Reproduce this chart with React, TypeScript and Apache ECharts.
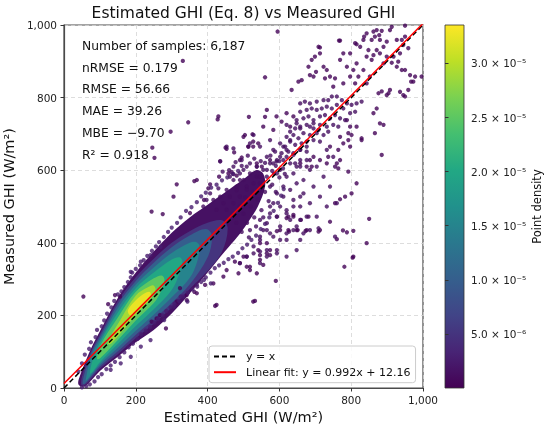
import React, { useEffect, useRef } from "react";
import * as echarts from "echarts";

// ---------- values ----------
const TITLE = "Estimated GHI (Eq. 8) vs Measured GHI";
const X_NAME = "Estimated GHI (W/m²)";
const Y_NAME = "Measured GHI (W/m²)";
const CBAR_NAME = "Point density";
const AXIS_MIN = 0;
const AXIS_MAX = 1000;
const AXIS_STEP = 200;
const DENSITY_MIN = 0;
const DENSITY_MAX = 3.355e-5;
const DENSITY_STEP = 5e-6;
const VIRIDIS = ["#440154", "#482475", "#414487", "#355f8d", "#2a788e", "#21918c", "#22a884", "#44bf70", "#7ad151", "#bddf26", "#fde725"];

const statsLines = ["Number of samples: 6,187", "nRMSE = 0.179", "RMSE = 56.66", "MAE = 39.26", "MBE = \u22129.70", "R\u00b2 = 0.918"];

const FIT_SLOPE = 0.992;
const FIT_INTERCEPT = 12.16;
const identityLine = [[0, 0], [1000, 1000]];
const fitEnds = [0, 1000];

// density of the individual point groups
const SPARSE_D = 3e-7;
const BAND_D = 1.2e-6;
const FRINGE_D = 2.6e-6;
const PURPLE_ZONE_D = 1.5e-6;

// semi-dense purple region (outline of the merged dots)
const purpleZone = [
  [40, 10], [45, 35], [75, 108], [100, 156], [150, 248], [200, 318], [250, 376], [300, 428], [350, 470], [400, 505], [450, 540], [500, 575], [535, 600],
  [555, 590], [560, 555],
  [540, 500], [515, 460], [490, 425], [460, 390], [430, 355], [400, 318], [350, 260], [300, 205], [250, 160], [200, 126], [150, 86], [100, 47], [75, 20], [55, 4],
];

// dense core, density contours (outer to inner)
const coreLevel1 = [
  [48, 8], [50, 32], [75, 100], [100, 148], [150, 240], [200, 305], [250, 356], [300, 400], [350, 432], [400, 455], [440, 462],
  [456, 440],
  [440, 375], [400, 322], [350, 272], [300, 222], [250, 177], [200, 137], [150, 93], [100, 53], [75, 25], [55, 6],
];
const coreLevel2 = [
  [52, 12], [56, 36], [75, 94], [100, 141], [150, 231], [200, 295], [250, 345], [300, 388], [350, 420], [395, 438],
  [412, 420],
  [400, 360], [350, 285], [300, 234], [250, 189], [200, 147], [150, 101], [100, 59], [75, 30], [58, 12],
];
const coreLevel3 = [
  [60, 20], [75, 86], [100, 133], [150, 220], [200, 285], [250, 332], [300, 372], [350, 400], [368, 402],
  [378, 390],
  [370, 345], [350, 303], [300, 250], [250, 202], [200, 158], [150, 111], [100, 65], [75, 35], [62, 20],
];
const coreLevel4 = [
  [72, 40], [80, 78], [100, 125], [150, 208], [200, 275], [250, 318], [300, 354], [322, 360],
  [330, 348],
  [320, 312], [300, 270], [250, 217], [200, 171], [150, 121], [100, 71], [80, 45],
];
const coreLevel5 = [
  [92, 80], [100, 115], [150, 194], [200, 265], [250, 302], [272, 310],
  [280, 298],
  [270, 266], [250, 234], [200, 186], [150, 132], [100, 81],
];
const coreLevel6 = [
  [122, 126], [150, 176], [200, 255], [235, 278], [248, 283],
  [255, 272],
  [245, 250], [200, 202], [150, 142], [127, 120],
];
const coreLevel7 = [
  [178, 214], [200, 242], [225, 261], [238, 265],
  [242, 255],
  [230, 236], [205, 215], [185, 200],
];
const coreLevels = [coreLevel1, coreLevel2, coreLevel3, coreLevel4, coreLevel5, coreLevel6, coreLevel7];
const coreDensities = [5e-6, 1.0e-5, 1.5e-5, 2.0e-5, 2.5e-5, 2.9e-5, 3.25e-5];

// isolated points
const sparsePoints = [
  [331, 901], [560, 856], [346, 732], [297, 706], [246, 662], [252, 634], [430, 748], [428, 740], [515, 747], [565, 766], [560, 747], [555, 720], [500, 692], [504, 697], [525, 699], [527, 679], [541, 674], [513, 665], [450, 662], [453, 659], [474, 649], [435, 625], [495, 635], [458, 591], [472, 589], [481, 585], [407, 561], [370, 573], [363, 570], [314, 561], [305, 527], [244, 486], [275, 479], [402, 550], [432, 582], [467, 595], [390, 518], [351, 482],
  [595, 982], [634, 821], [653, 844], [662, 848], [685, 862], [695, 858], [709, 940], [713, 938], [690, 904], [681, 885], [699, 913], [713, 922], [702, 871], [723, 885], [732, 876], [727, 853], [741, 858], [755, 853], [750, 830], [769, 904], [778, 922], [797, 922], [811, 950], [769, 957], [620, 757], [639, 748], [630, 720], [606, 734], [592, 748], [583, 711], [527, 665], [514, 665], [490, 628], [537, 619], [574, 628], [551, 610],
  [850, 466], [843, 399], [804, 359], [781, 334], [760, 410], [806, 433], [788, 429], [777, 434], [741, 458], [713, 435], [709, 431], [673, 433], [651, 435], [627, 431], [602, 435], [593, 432], [681, 472], [660, 463], [639, 472], [625, 472], [620, 468], [590, 295], [527, 238], [421, 226], [444, 307], [509, 334], [555, 339], [574, 366], [546, 366], [541, 380], [500, 362], [476, 348], [486, 316], [393, 284], [370, 261], [342, 242], [363, 265], [416, 288], [453, 325], [490, 344], [518, 325], [546, 399], [565, 399], [676, 435], [806, 362], [425, 229], [532, 240], [54, 252], [123, 231], [142, 256], [156, 252], [284, 164], [258, 192], [267, 201], [244, 183], [314, 238], [342, 256], [323, 275], [639, 477], [625, 435], [648, 435], [565, 371], [546, 353], [574, 380], [518, 334], [537, 316],
  [862, 982], [871, 986], [885, 984], [878, 972], [866, 968], [857, 959], [880, 959], [899, 954], [890, 940], [871, 931], [950, 998], [927, 959], [945, 945], [959, 936], [936, 922], [918, 913], [899, 913], [880, 922], [862, 917], [848, 931], [843, 913], [857, 904], [890, 894], [913, 896], [927, 885], [950, 876], [964, 862], [973, 844], [996, 858], [978, 858], [945, 807], [959, 821], [936, 816], [876, 812], [904, 812], [871, 770], [862, 757], [880, 729], [890, 725], [866, 702], [885, 642], [829, 688], [815, 720], [797, 720], [792, 702], [801, 697], [792, 683], [797, 665], [788, 738], [769, 692], [778, 674], [764, 656], [769, 628], [755, 610], [741, 665], [736, 637], [695, 637], [685, 628], [676, 610], [690, 610], [658, 619], [732, 619], [713, 628], [834, 959], [843, 977], [836, 968], [815, 947], [766, 957], [825, 940], [815, 894], [834, 876], [852, 858], [843, 839], [820, 858], [806, 876], [788, 885], [797, 858], [778, 839], [811, 839], [908, 986], [913, 995], [941, 959], [950, 968], [931, 899], [941, 876], [967, 844], [950, 803], [899, 807], [885, 817], [908, 821], [815, 564], [801, 536], [783, 527], [769, 520], [755, 509], [792, 596], [764, 605], [760, 619], [829, 683],
];

// semi-dense diagonal band above x = 400
const bandPoints = [
  [658, 784], [671, 789], [685, 784], [704, 789], [723, 793], [736, 793], [746, 803], [760, 803], [774, 793], [788, 784], [801, 780], [815, 784], [829, 789], [658, 761], [676, 766], [690, 770], [704, 766], [718, 770], [732, 775], [746, 770], [760, 780], [778, 770], [797, 757], [811, 761], [648, 738], [667, 743], [681, 748], [695, 738], [713, 748], [727, 752], [741, 743], [755, 752], [769, 743], [783, 738], [630, 706], [644, 715], [658, 720], [676, 725], [695, 715], [713, 725], [732, 720], [750, 725], [764, 720], [620, 692], [639, 697], [653, 688], [667, 702], [685, 697], [704, 702], [723, 697], [736, 706], [602, 674], [616, 665], [630, 679], [644, 670], [662, 674], [676, 679], [695, 683], [713, 679], [588, 651], [606, 647], [625, 651], [639, 642], [658, 656], [676, 651], [592, 624], [611, 628], [630, 619], [648, 610],
  [620, 725], [648, 729], [658, 715], [685, 720], [695, 729], [709, 711], [528, 697], [518, 674], [472, 660], [453, 665], [495, 628], [435, 624], [546, 665], [574, 683], [583, 656], [611, 665], [630, 683], [565, 637], [593, 628], [620, 637], [639, 647], [658, 656], [676, 665], [685, 601], [704, 610], [732, 656], [750, 637], [723, 582], [741, 555], [695, 555], [667, 536], [685, 509], [713, 527], [658, 500], [676, 472], [704, 472], [732, 500], [760, 509], [630, 463], [648, 445], [667, 426], [620, 426], [602, 408], [685, 435], [658, 463], [709, 440], [755, 417], [593, 371], [565, 380], [509, 362], [528, 371], [546, 376], [602, 601], [620, 582], [639, 591], [658, 610], [648, 564], [630, 546], [611, 527], [602, 500], [639, 518], [620, 490], [593, 472], [667, 573], [658, 628], [676, 628], [644, 619], [611, 555], [593, 536], [583, 509], [574, 481], [565, 454], [555, 435], [546, 417], [574, 426], [472, 610], [500, 601], [518, 619], [537, 610], [555, 601], [574, 619], [593, 591], [537, 582], [565, 582], [546, 564], [574, 555], [462, 582], [490, 573], [481, 545], [509, 555],
  [574, 500], [593, 472], [620, 481], [639, 500], [658, 527], [546, 463], [565, 435], [583, 417], [620, 408], [639, 435], [602, 445], [546, 408], [528, 390], [509, 362], [490, 344], [546, 344], [565, 362], [593, 380], [620, 362], [648, 380], [658, 408], [518, 435],
  [453, 491], [472, 509], [490, 527], [509, 546], [528, 564], [546, 582], [565, 601], [583, 619], [602, 637], [620, 656], [462, 527], [481, 555], [500, 573], [518, 591], [537, 610], [444, 509], [425, 491], [435, 527], [416, 518], [453, 546], [472, 573], [490, 591], [509, 610], [407, 536], [430, 550], [388, 500], [397, 518],
  [500, 480], [520, 500], [540, 520], [560, 540], [580, 560], [600, 580], [510, 455], [530, 470], [550, 490], [570, 515], [590, 540], [495, 430], [515, 415], [535, 445], [555, 470], [585, 590], [610, 605], [480, 455], [470, 480], [490, 500], [505, 525], [525, 540], [545, 545],
  [560, 620], [575, 640], [590, 612], [600, 625], [615, 590], [580, 598], [548, 625], [530, 632], [512, 640], [495, 612], [478, 622], [460, 600], [442, 596],
];

// ragged edge of the core
const fringePoints = [
  [40, 45], [50, 68], [58, 92], [70, 108], [75, 126], [88, 140], [92, 160], [105, 170], [112, 186], [120, 205], [132, 222], [140, 240], [150, 258], [160, 266], [168, 278], [178, 292], [186, 305], [190, 318], [200, 328], [212, 338], [222, 352], [232, 364], [245, 378], [256, 390], [265, 402], [278, 416], [290, 430], [300, 442], [315, 455], [325, 470], [340, 488], [355, 498], [370, 512], [382, 528], [395, 538], [410, 552], [425, 560], [440, 572], [455, 580], [470, 590], [485, 598], [186, 320], [214, 348], [241, 366], [269, 389],
  [50, 2], [62, 5], [72, 10], [85, 18], [95, 30], [105, 38], [118, 52], [130, 62], [142, 72], [155, 85], [168, 98], [180, 112], [192, 122], [205, 135], [215, 148], [228, 158], [240, 168], [252, 180], [262, 190], [275, 200], [285, 212], [297, 222], [308, 232], [320, 240], [332, 252], [345, 262], [358, 272], [370, 285], [382, 292], [395, 305], [408, 318], [420, 330], [432, 338], [445, 345], [458, 355], [470, 362], [485, 372], [497, 385], [510, 395], [522, 408], [535, 420], [548, 438], [560, 452], [572, 470], [584, 488], [596, 510], [605, 530], [612, 548], [279, 187], [306, 224], [325, 252], [344, 238], [241, 132], [214, 114], [186, 86], [158, 68], [130, 50], [371, 279], [390, 298], [409, 288],
];

const FONT = "DejaVu Sans";
const SUP: Record<string, string> = { "-": "\u207b", "0": "\u2070", "1": "\u00b9", "2": "\u00b2", "3": "\u00b3", "4": "\u2074", "5": "\u2075", "6": "\u2076", "7": "\u2077", "8": "\u2078", "9": "\u2079" };

function sciLabel(v: number): string {
  if (v <= 0) return "";
  const e = Math.floor(Math.log10(v) + 1e-9);
  const m = v / Math.pow(10, e);
  const sup = String(e).split("").map((c) => SUP[c] || c).join("");
  return `${m.toFixed(1)} \u00d7 10${sup}`;
}

export default function App() {
  const ref = useRef<HTMLDivElement>(null);

  useEffect(() => {
    if (!ref.current) return;
    const chart = echarts.init(ref.current, undefined, { renderer: "svg" });

    const scatterData = [
      ...sparsePoints.map((p) => [p[0], p[1], SPARSE_D]),
      ...bandPoints.map((p) => [p[0], p[1], BAND_D]),
      ...fringePoints.map((p) => [p[0], p[1], FRINGE_D]),
    ];
    const fitLine = fitEnds.map((x) => [x, FIT_SLOPE * x + FIT_INTERCEPT]);
    const fitName = `Linear fit: y = ${FIT_SLOPE}x + ${FIT_INTERCEPT}`;

    const polygonRenderer = (shapes: number[][][]) => (params: any, api: any) => {
      const pts = shapes[params.dataIndex].map((p) => api.coord(p));
      return {
        type: "polygon",
        shape: { points: pts, smooth: 0.35 },
        style: { fill: api.visual("color"), stroke: null },
      };
    };

    const gradientStops = VIRIDIS.map((c, i) => ({ offset: i / (VIRIDIS.length - 1), color: c }));

    chart.setOption({
      animation: false,
      textStyle: { fontFamily: FONT },
      grid: [
        { left: 64, top: 25, width: 359, height: 363, show: true, borderColor: "#4a4a4a", borderWidth: 1.2, backgroundColor: "transparent", containLabel: false, outerBoundsMode: "none" },
        { left: 445, top: 25, width: 19, height: 363, show: false, containLabel: false, outerBoundsMode: "none" },
      ],
      xAxis: [
        {
          type: "value", gridIndex: 0, min: AXIS_MIN, max: AXIS_MAX, interval: AXIS_STEP,
          name: X_NAME, nameLocation: "middle", nameGap: 21,
          nameTextStyle: { fontSize: 14.5, color: "#111", fontFamily: FONT },
          axisLine: { show: true, lineStyle: { color: "#4a4a4a", width: 1.2 } },
          axisTick: { show: true, length: 3.5, lineStyle: { color: "#333" } },
          axisLabel: { fontSize: 10.5, color: "#222", margin: 6, formatter: (v: number) => v.toLocaleString("en-US") },
          splitLine: { show: true, lineStyle: { color: "#d4d4d4", type: [4, 3], width: 0.8 } },
        },
        { type: "value", gridIndex: 1, show: false, min: 0, max: 1 },
      ],
      yAxis: [
        {
          type: "value", gridIndex: 0, min: AXIS_MIN, max: AXIS_MAX, interval: AXIS_STEP,
          name: Y_NAME, nameLocation: "middle", nameGap: 43,
          nameTextStyle: { fontSize: 14.5, color: "#111", fontFamily: FONT },
          axisLine: { show: true, lineStyle: { color: "#4a4a4a", width: 1.2 } },
          axisTick: { show: true, length: 3.5, lineStyle: { color: "#333" } },
          axisLabel: { fontSize: 10.5, color: "#222", margin: 7, formatter: (v: number) => v.toLocaleString("en-US") },
          splitLine: { show: true, lineStyle: { color: "#d4d4d4", type: [4, 3], width: 0.8 } },
        },
        {
          type: "value", gridIndex: 1, position: "right", min: DENSITY_MIN, max: DENSITY_MAX, interval: DENSITY_STEP,
          name: CBAR_NAME, nameLocation: "middle", nameGap: 67, nameRotate: 90,
          nameTextStyle: { fontSize: 11.5, color: "#111", fontFamily: FONT },
          axisLine: { show: false },
          axisTick: { show: true, length: 3.5, lineStyle: { color: "#333" } },
          axisLabel: { fontSize: 10.5, color: "#222", margin: 7, showMinLabel: false, showMaxLabel: false, formatter: (v: number) => sciLabel(v) },
          splitLine: { show: false },
        },
      ],
      visualMap: {
        type: "continuous", show: false, min: DENSITY_MIN, max: DENSITY_MAX, dimension: 2,
        seriesIndex: [0, 1, 2], inRange: { color: VIRIDIS },
      },
      legend: {
        left: 209, top: 346, orient: "vertical", itemWidth: 22, itemHeight: 11, itemGap: 4.7,
        padding: [5, 5, 5, 4], backgroundColor: "rgba(255,255,255,0.85)", borderColor: "#cccccc", borderWidth: 1, borderRadius: 3,
        itemStyle: { opacity: 0 },
        textStyle: { fontSize: 11, color: "#111", fontFamily: FONT, padding: [0, 0, 0, 5] },
        data: ["y = x", fitName],
      },
      graphic: [
        {
          type: "text", x: 243.5, y: 12.5, silent: true,
          style: { text: TITLE, fontSize: 15.5, fontFamily: FONT, fill: "#111", align: "center", verticalAlign: "middle" },
        },
        ...statsLines.map((t, i) => ({
          type: "text", x: 82, y: 45.7 + i * 21.85, silent: true, z: 10,
          style: { text: t, fontSize: 12.3, fontFamily: FONT, fill: "#111", align: "left", verticalAlign: "middle" },
        })),
        {
          type: "rect", silent: true,
          shape: { x: 445, y: 25, width: 19, height: 363 },
          style: { fill: new echarts.graphic.LinearGradient(0, 1, 0, 0, gradientStops), stroke: "#333", lineWidth: 0.8 },
        },
      ],
      series: [
        {
          type: "custom", coordinateSystem: "cartesian2d", xAxisIndex: 0, yAxisIndex: 0, silent: true, clip: true,
          renderItem: polygonRenderer([purpleZone]),
          encode: { x: 0, y: 1 },
          data: [[0, 0, PURPLE_ZONE_D]],
        },
        {
          type: "scatter", xAxisIndex: 0, yAxisIndex: 0, symbolSize: 4.3, silent: true, clip: true,
          data: scatterData,
        },
        {
          type: "custom", coordinateSystem: "cartesian2d", xAxisIndex: 0, yAxisIndex: 0, silent: true, clip: true,
          renderItem: polygonRenderer(coreLevels),
          encode: { x: 0, y: 1 },
          data: coreDensities.map((d, i) => [i, 0, d]),
        },
        {
          name: "y = x", type: "line", xAxisIndex: 0, yAxisIndex: 0, symbol: "none", silent: true, clip: true,
          itemStyle: { color: "#000" },
          lineStyle: { color: "#000", width: 1.5, type: [5, 3] },
          data: identityLine,
        },
        {
          name: fitName, type: "line", xAxisIndex: 0, yAxisIndex: 0, symbol: "none", silent: true, clip: true,
          itemStyle: { color: "#ff0000" },
          lineStyle: { color: "#ff0000", width: 1.5 },
          data: fitLine,
        },
      ],
    });

    return () => chart.dispose();
  }, []);

  return <div ref={ref} style={{ position: "fixed", left: 0, top: 0, width: 550, height: 430 }} />;
}
